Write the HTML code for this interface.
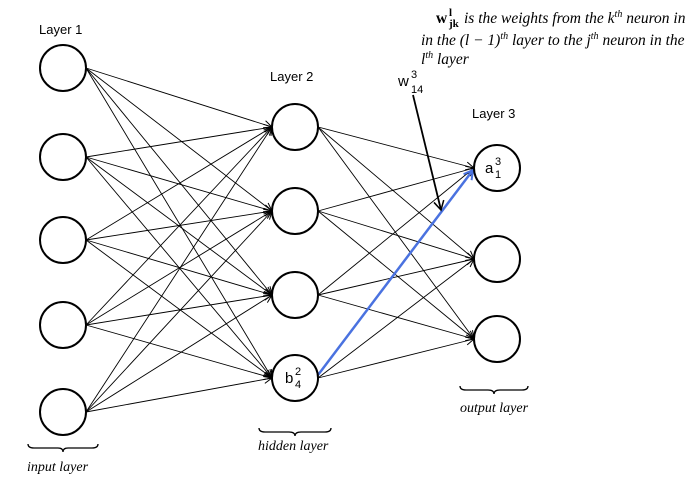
<!DOCTYPE html>
<html><head><meta charset="utf-8"><style>
body{margin:0;background:#fff}
svg{display:block}
.s{font-family:"Liberation Sans",sans-serif}
.i{font-family:"Liberation Serif",serif;font-style:italic;font-size:14px}
</style></head><body>
<svg width="700" height="482" viewBox="0 0 700 482" xmlns="http://www.w3.org/2000/svg">
<defs>
<marker id="a" markerWidth="10" markerHeight="10" refX="9" refY="5" orient="auto" markerUnits="userSpaceOnUse"><path d="M1,1 L9,5 L1,9" fill="none" stroke="#000" stroke-width="1"/></marker>
<marker id="b" markerWidth="12" markerHeight="12" refX="10" refY="6" orient="auto" markerUnits="userSpaceOnUse"><path d="M1,1 L10,6 L1,11" fill="none" stroke="#4a72e0" stroke-width="2"/></marker>
<marker id="k" markerWidth="12" markerHeight="12" refX="10" refY="6" orient="auto" markerUnits="userSpaceOnUse"><path d="M1,1 L10,6 L1,11" fill="none" stroke="#000" stroke-width="1.5"/></marker>
</defs>
<g stroke="#000" stroke-width="0.9" marker-end="url(#a)">
<line x1="86" y1="68" x2="272" y2="127"/><line x1="86" y1="68" x2="272" y2="211"/><line x1="86" y1="68" x2="272" y2="295"/><line x1="86" y1="68" x2="272" y2="378"/>
<line x1="86" y1="157" x2="272" y2="127"/><line x1="86" y1="157" x2="272" y2="211"/><line x1="86" y1="157" x2="272" y2="295"/><line x1="86" y1="157" x2="272" y2="378"/>
<line x1="86" y1="240" x2="272" y2="127"/><line x1="86" y1="240" x2="272" y2="211"/><line x1="86" y1="240" x2="272" y2="295"/><line x1="86" y1="240" x2="272" y2="378"/>
<line x1="86" y1="325" x2="272" y2="127"/><line x1="86" y1="325" x2="272" y2="211"/><line x1="86" y1="325" x2="272" y2="295"/><line x1="86" y1="325" x2="272" y2="378"/>
<line x1="86" y1="412" x2="272" y2="127"/><line x1="86" y1="412" x2="272" y2="211"/><line x1="86" y1="412" x2="272" y2="295"/><line x1="86" y1="412" x2="272" y2="378"/>
<line x1="318" y1="127" x2="474" y2="168"/><line x1="318" y1="127" x2="474" y2="259"/><line x1="318" y1="127" x2="474" y2="339"/>
<line x1="318" y1="211" x2="474" y2="168"/><line x1="318" y1="211" x2="474" y2="259"/><line x1="318" y1="211" x2="474" y2="339"/>
<line x1="318" y1="295" x2="474" y2="168"/><line x1="318" y1="295" x2="474" y2="259"/><line x1="318" y1="295" x2="474" y2="339"/>
<line x1="318" y1="378" x2="474" y2="259"/><line x1="318" y1="378" x2="474" y2="339"/>
</g>
<line x1="318" y1="375" x2="473" y2="170" stroke="#4a72e0" stroke-width="2.5" marker-end="url(#b)"/>
<line x1="413" y1="95" x2="441" y2="210" stroke="#000" stroke-width="1.8" marker-end="url(#k)"/>
<g fill="#fff" stroke="#000" stroke-width="2">
<circle cx="63" cy="68" r="23"/><circle cx="63" cy="157" r="23"/><circle cx="63" cy="240" r="23"/><circle cx="63" cy="325" r="23"/><circle cx="63" cy="412" r="23"/>
<circle cx="295" cy="127" r="23"/><circle cx="295" cy="211" r="23"/><circle cx="295" cy="295" r="23"/><circle cx="295" cy="378" r="23"/>
<circle cx="497" cy="168" r="23"/><circle cx="497" cy="259" r="23"/><circle cx="497" cy="339" r="23"/>
</g>
<text class="s" x="39" y="34" style="font-size:13px">Layer 1</text>
<text class="s" x="270" y="81" style="font-size:13px">Layer 2</text>
<text class="s" x="472" y="118" style="font-size:13px">Layer 3</text>
<text class="s" x="485" y="173" style="font-size:15px">a</text><text class="s" x="495" y="165" style="font-size:11px">3</text><text class="s" x="495" y="178" style="font-size:11px">1</text>
<text class="s" x="285" y="383" style="font-size:15px">b</text><text class="s" x="295" y="375" style="font-size:11px">2</text><text class="s" x="295" y="388" style="font-size:11px">4</text>
<text class="s" x="398" y="86" style="font-size:15px">w</text><text class="s" x="411" y="78" style="font-size:11px">3</text><text class="s" x="411" y="93" style="font-size:11px">14</text>
<g font-family="Liberation Serif,serif" style="font-size:15.5px">
<text x="436" y="23" font-weight="bold">w</text><text x="449" y="16" style="font-size:11px" font-weight="bold">l</text><text x="449" y="27" style="font-size:11px" font-weight="bold">jk</text>
<text x="464" y="23" font-style="italic">is the weights  from the k<tspan style="font-size:10px" dy="-6">th</tspan><tspan dy="6"> neuron in</tspan></text>
<text x="421" y="45" font-style="italic">in the (l − 1)<tspan style="font-size:10px" dy="-6">th</tspan><tspan dy="6"> layer to the j</tspan><tspan style="font-size:10px" dy="-6">th</tspan><tspan dy="6"> neuron in the</tspan></text>
<text x="421" y="64" font-style="italic">l<tspan style="font-size:10px" dy="-6">th</tspan><tspan dy="6"> layer</tspan></text>
</g>
<g fill="none" stroke="#000" stroke-width="1.3">
<path d="M28,444 q0,4 6,4 h24 q5,0 5,4 q0,-4 5,-4 h24 q6,0 6,-4"/>
<path d="M259,428 q0,4 6,4 h24 q6,0 6,4 q0,-4 6,-4 h24 q6,0 6,-4"/>
<path d="M460,386 q0,4 6,4 h22 q6,0 6,4 q0,-4 6,-4 h22 q6,0 6,-4"/>
</g>
<text class="i" x="27" y="471">input layer</text>
<text class="i" x="258" y="450">hidden layer</text>
<text class="i" x="460" y="412">output layer</text>
</svg>
</body></html>
